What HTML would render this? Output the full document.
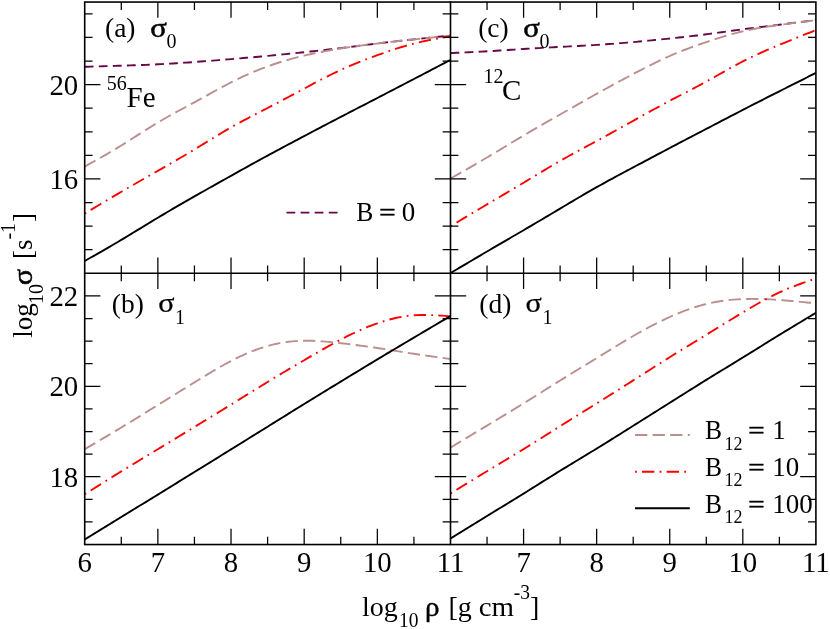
<!DOCTYPE html>
<html><head><meta charset="utf-8"><title>conductivity</title>
<style>html,body{margin:0;padding:0;background:#fff;}svg{display:block;}text{font-family:'Liberation Serif', serif;fill:#000;}</style></head><body>
<svg width="830" height="629" viewBox="0 0 830 629">
<rect x="0" y="0" width="830" height="629" fill="#ffffff"/>
<defs>
<clipPath id="ca"><rect x="84.7" y="2.05" width="365.8" height="271.25"/></clipPath>
<clipPath id="cb"><rect x="84.7" y="273.3" width="365.8" height="271.24999999999994"/></clipPath>
<clipPath id="cc"><rect x="450.5" y="2.05" width="365.4" height="271.25"/></clipPath>
<clipPath id="cd"><rect x="450.5" y="273.3" width="365.4" height="271.24999999999994"/></clipPath>
</defs>
<g clip-path="url(#ca)" fill="none" stroke-width="1.9">
<path d="M84.70,66.80 L87.75,66.71 L90.80,66.62 L93.84,66.53 L96.89,66.44 L99.94,66.35 L102.99,66.26 L106.04,66.17 L109.09,66.08 L112.14,65.98 L115.18,65.89 L118.23,65.80 L121.28,65.70 L124.33,65.60 L127.38,65.50 L130.43,65.40 L133.47,65.30 L136.52,65.19 L139.57,65.08 L142.62,64.97 L145.67,64.85 L148.72,64.72 L151.76,64.59 L154.81,64.45 L157.86,64.30 L160.91,64.14 L163.96,63.98 L167.00,63.81 L170.05,63.63 L173.10,63.45 L176.15,63.26 L179.20,63.06 L182.25,62.86 L185.30,62.65 L188.34,62.44 L191.39,62.22 L194.44,62.00 L197.49,61.77 L200.54,61.54 L203.59,61.31 L206.63,61.08 L209.68,60.84 L212.73,60.59 L215.78,60.35 L218.83,60.10 L221.88,59.86 L224.92,59.60 L227.97,59.35 L231.02,59.10 L234.07,58.85 L237.12,58.59 L240.17,58.33 L243.21,58.07 L246.26,57.81 L249.31,57.55 L252.36,57.28 L255.41,57.01 L258.45,56.74 L261.50,56.47 L264.55,56.18 L267.60,55.90 L270.65,55.61 L273.70,55.32 L276.75,55.02 L279.79,54.72 L282.84,54.41 L285.89,54.10 L288.94,53.79 L291.99,53.48 L295.04,53.16 L298.08,52.84 L301.13,52.52 L304.18,52.20 L307.23,51.88 L310.28,51.55 L313.32,51.22 L316.37,50.89 L319.42,50.56 L322.47,50.22 L325.52,49.88 L328.57,49.53 L331.62,49.18 L334.66,48.83 L337.71,48.47 L340.76,48.10 L343.81,47.73 L346.86,47.35 L349.90,46.96 L352.95,46.58 L356.00,46.19 L359.05,45.80 L362.10,45.41 L365.15,45.02 L368.19,44.63 L371.24,44.25 L374.29,43.87 L377.34,43.50 L380.39,43.13 L383.44,42.77 L386.49,42.42 L389.53,42.07 L392.58,41.73 L395.63,41.39 L398.68,41.05 L401.73,40.72 L404.77,40.38 L407.82,40.05 L410.87,39.73 L413.92,39.40 L416.97,39.07 L420.02,38.75 L423.06,38.42 L426.11,38.10 L429.16,37.77 L432.21,37.45 L435.26,37.12 L438.31,36.80 L441.35,36.47 L444.40,36.15 L447.45,35.82 L450.50,35.50" stroke="#670748" stroke-dasharray="8.8 5.28"/>
<path d="M84.70,166.60 L87.75,164.90 L90.80,163.20 L93.84,161.49 L96.89,159.78 L99.94,158.06 L102.99,156.32 L106.04,154.57 L109.09,152.80 L112.14,151.01 L115.18,149.20 L118.23,147.36 L121.28,145.50 L124.33,143.61 L127.38,141.69 L130.43,139.76 L133.47,137.81 L136.52,135.86 L139.57,133.90 L142.62,131.96 L145.67,130.02 L148.72,128.10 L151.76,126.20 L154.81,124.33 L157.86,122.50 L160.91,120.71 L163.96,118.95 L167.00,117.22 L170.05,115.52 L173.10,113.84 L176.15,112.18 L179.20,110.53 L182.25,108.88 L185.30,107.25 L188.34,105.60 L191.39,103.96 L194.44,102.30 L197.49,100.63 L200.54,98.94 L203.59,97.25 L206.63,95.56 L209.68,93.87 L212.73,92.18 L215.78,90.50 L218.83,88.84 L221.88,87.19 L224.92,85.57 L227.97,83.97 L231.02,82.40 L234.07,80.87 L237.12,79.37 L240.17,77.91 L243.21,76.48 L246.26,75.09 L249.31,73.73 L252.36,72.42 L255.41,71.14 L258.45,69.90 L261.50,68.69 L264.55,67.53 L267.60,66.40 L270.65,65.31 L273.70,64.26 L276.75,63.25 L279.79,62.27 L282.84,61.33 L285.89,60.42 L288.94,59.54 L291.99,58.70 L295.04,57.88 L298.08,57.09 L301.13,56.33 L304.18,55.60 L307.23,54.89 L310.28,54.21 L313.32,53.55 L316.37,52.91 L319.42,52.29 L322.47,51.70 L325.52,51.12 L328.57,50.56 L331.62,50.02 L334.66,49.50 L337.71,48.99 L340.76,48.50 L343.81,48.02 L346.86,47.56 L349.90,47.11 L352.95,46.67 L356.00,46.24 L359.05,45.82 L362.10,45.41 L365.15,45.02 L368.19,44.63 L371.24,44.24 L374.29,43.87 L377.34,43.50 L380.39,43.14 L383.44,42.78 L386.49,42.43 L389.53,42.08 L392.58,41.73 L395.63,41.39 L398.68,41.06 L401.73,40.72 L404.77,40.39 L407.82,40.06 L410.87,39.73 L413.92,39.40 L416.97,39.07 L420.02,38.75 L423.06,38.42 L426.11,38.09 L429.16,37.77 L432.21,37.44 L435.26,37.12 L438.31,36.80 L441.35,36.47 L444.40,36.15 L447.45,35.82 L450.50,35.50" stroke="#bc8f8f" stroke-dasharray="12.32 5.28"/>
<path d="M84.70,213.60 L87.75,211.77 L90.80,209.93 L93.84,208.10 L96.89,206.27 L99.94,204.45 L102.99,202.62 L106.04,200.80 L109.09,198.99 L112.14,197.18 L115.18,195.38 L118.23,193.59 L121.28,191.80 L124.33,190.02 L127.38,188.25 L130.43,186.49 L133.47,184.73 L136.52,182.98 L139.57,181.23 L142.62,179.49 L145.67,177.75 L148.72,176.01 L151.76,174.27 L154.81,172.54 L157.86,170.80 L160.91,169.06 L163.96,167.32 L167.00,165.58 L170.05,163.83 L173.10,162.07 L176.15,160.31 L179.20,158.54 L182.25,156.76 L185.30,154.96 L188.34,153.16 L191.39,151.34 L194.44,149.50 L197.49,147.65 L200.54,145.78 L203.59,143.91 L206.63,142.04 L209.68,140.16 L212.73,138.29 L215.78,136.43 L218.83,134.58 L221.88,132.75 L224.92,130.94 L227.97,129.15 L231.02,127.40 L234.07,125.68 L237.12,123.99 L240.17,122.33 L243.21,120.69 L246.26,119.07 L249.31,117.47 L252.36,115.88 L255.41,114.30 L258.45,112.72 L261.50,111.15 L264.55,109.58 L267.60,108.00 L270.65,106.41 L273.70,104.82 L276.75,103.22 L279.79,101.61 L282.84,100.00 L285.89,98.38 L288.94,96.76 L291.99,95.13 L295.04,93.50 L298.08,91.87 L301.13,90.23 L304.18,88.60 L307.23,86.97 L310.28,85.33 L313.32,83.71 L316.37,82.09 L319.42,80.49 L322.47,78.90 L325.52,77.34 L328.57,75.79 L331.62,74.27 L334.66,72.78 L337.71,71.32 L340.76,69.90 L343.81,68.51 L346.86,67.17 L349.90,65.85 L352.95,64.57 L356.00,63.32 L359.05,62.09 L362.10,60.89 L365.15,59.71 L368.19,58.56 L371.24,57.42 L374.29,56.30 L377.34,55.20 L380.39,54.11 L383.44,53.03 L386.49,51.97 L389.53,50.93 L392.58,49.92 L395.63,48.92 L398.68,47.95 L401.73,47.02 L404.77,46.11 L407.82,45.24 L410.87,44.40 L413.92,43.60 L416.97,42.84 L420.02,42.12 L423.06,41.43 L426.11,40.77 L429.16,40.14 L432.21,39.53 L435.26,38.95 L438.31,38.38 L441.35,37.82 L444.40,37.28 L447.45,36.74 L450.50,36.20" stroke="#ff0000" stroke-dasharray="1.76 5.28 12.32 5.28"/>
<path d="M84.70,261.00 L87.75,259.27 L90.80,257.54 L93.84,255.81 L96.89,254.07 L99.94,252.33 L102.99,250.58 L106.04,248.83 L109.09,247.06 L112.14,245.29 L115.18,243.51 L118.23,241.71 L121.28,239.90 L124.33,238.08 L127.38,236.24 L130.43,234.40 L133.47,232.54 L136.52,230.68 L139.57,228.82 L142.62,226.96 L145.67,225.10 L148.72,223.24 L151.76,221.38 L154.81,219.54 L157.86,217.70 L160.91,215.88 L163.96,214.06 L167.00,212.26 L170.05,210.47 L173.10,208.68 L176.15,206.91 L179.20,205.14 L182.25,203.38 L185.30,201.63 L188.34,199.88 L191.39,198.14 L194.44,196.40 L197.49,194.67 L200.54,192.94 L203.59,191.21 L206.63,189.49 L209.68,187.77 L212.73,186.05 L215.78,184.34 L218.83,182.63 L221.88,180.92 L224.92,179.21 L227.97,177.50 L231.02,175.80 L234.07,174.10 L237.12,172.40 L240.17,170.70 L243.21,169.01 L246.26,167.31 L249.31,165.63 L252.36,163.94 L255.41,162.26 L258.45,160.59 L261.50,158.92 L264.55,157.26 L267.60,155.60 L270.65,153.95 L273.70,152.31 L276.75,150.67 L279.79,149.04 L282.84,147.41 L285.89,145.78 L288.94,144.16 L291.99,142.55 L295.04,140.93 L298.08,139.32 L301.13,137.71 L304.18,136.10 L307.23,134.49 L310.28,132.88 L313.32,131.28 L316.37,129.67 L319.42,128.07 L322.47,126.46 L325.52,124.86 L328.57,123.27 L331.62,121.67 L334.66,120.08 L337.71,118.49 L340.76,116.90 L343.81,115.32 L346.86,113.74 L349.90,112.16 L352.95,110.58 L356.00,109.01 L359.05,107.43 L362.10,105.86 L365.15,104.29 L368.19,102.72 L371.24,101.15 L374.29,99.57 L377.34,98.00 L380.39,96.42 L383.44,94.85 L386.49,93.27 L389.53,91.69 L392.58,90.10 L395.63,88.52 L398.68,86.94 L401.73,85.35 L404.77,83.76 L407.82,82.18 L410.87,80.59 L413.92,79.00 L416.97,77.41 L420.02,75.82 L423.06,74.23 L426.11,72.64 L429.16,71.05 L432.21,69.46 L435.26,67.86 L438.31,66.27 L441.35,64.68 L444.40,63.09 L447.45,61.49 L450.50,59.90" stroke="#000000"/>
</g>
<g clip-path="url(#cb)" fill="none" stroke-width="1.9">
<path d="M84.70,449.20 L87.75,447.41 L90.80,445.62 L93.84,443.82 L96.89,442.03 L99.94,440.23 L102.99,438.43 L106.04,436.62 L109.09,434.81 L112.14,432.99 L115.18,431.17 L118.23,429.34 L121.28,427.50 L124.33,425.65 L127.38,423.80 L130.43,421.94 L133.47,420.07 L136.52,418.20 L139.57,416.32 L142.62,414.44 L145.67,412.55 L148.72,410.67 L151.76,408.78 L154.81,406.89 L157.86,405.00 L160.91,403.11 L163.96,401.23 L167.00,399.34 L170.05,397.46 L173.10,395.57 L176.15,393.69 L179.20,391.81 L182.25,389.92 L185.30,388.04 L188.34,386.16 L191.39,384.28 L194.44,382.40 L197.49,380.52 L200.54,378.64 L203.59,376.78 L206.63,374.92 L209.68,373.08 L212.73,371.26 L215.78,369.47 L218.83,367.70 L221.88,365.97 L224.92,364.27 L227.97,362.61 L231.02,361.00 L234.07,359.43 L237.12,357.92 L240.17,356.46 L243.21,355.05 L246.26,353.70 L249.31,352.40 L252.36,351.17 L255.41,350.00 L258.45,348.90 L261.50,347.86 L264.55,346.90 L267.60,346.00 L270.65,345.18 L273.70,344.43 L276.75,343.75 L279.79,343.14 L282.84,342.60 L285.89,342.13 L288.94,341.73 L291.99,341.40 L295.04,341.13 L298.08,340.92 L301.13,340.78 L304.18,340.70 L307.23,340.68 L310.28,340.72 L313.32,340.81 L316.37,340.95 L319.42,341.13 L322.47,341.35 L325.52,341.60 L328.57,341.88 L331.62,342.18 L334.66,342.51 L337.71,342.85 L340.76,343.20 L343.81,343.56 L346.86,343.92 L349.90,344.29 L352.95,344.67 L356.00,345.05 L359.05,345.45 L362.10,345.85 L365.15,346.26 L368.19,346.68 L371.24,347.11 L374.29,347.55 L377.34,348.00 L380.39,348.46 L383.44,348.93 L386.49,349.41 L389.53,349.90 L392.58,350.39 L395.63,350.88 L398.68,351.37 L401.73,351.87 L404.77,352.36 L407.82,352.85 L410.87,353.33 L413.92,353.80 L416.97,354.27 L420.02,354.72 L423.06,355.17 L426.11,355.61 L429.16,356.05 L432.21,356.48 L435.26,356.91 L438.31,357.33 L441.35,357.75 L444.40,358.17 L447.45,358.58 L450.50,359.00" stroke="#bc8f8f" stroke-dasharray="12.32 5.28"/>
<path d="M84.70,494.30 L87.75,492.38 L90.80,490.45 L93.84,488.53 L96.89,486.61 L99.94,484.69 L102.99,482.78 L106.04,480.87 L109.09,478.96 L112.14,477.06 L115.18,475.17 L118.23,473.28 L121.28,471.40 L124.33,469.53 L127.38,467.66 L130.43,465.80 L133.47,463.94 L136.52,462.09 L139.57,460.25 L142.62,458.40 L145.67,456.56 L148.72,454.72 L151.76,452.88 L154.81,451.04 L157.86,449.20 L160.91,447.36 L163.96,445.51 L167.00,443.67 L170.05,441.82 L173.10,439.97 L176.15,438.12 L179.20,436.27 L182.25,434.42 L185.30,432.56 L188.34,430.71 L191.39,428.86 L194.44,427.00 L197.49,425.14 L200.54,423.29 L203.59,421.43 L206.63,419.57 L209.68,417.71 L212.73,415.84 L215.78,413.98 L218.83,412.11 L221.88,410.24 L224.92,408.36 L227.97,406.48 L231.02,404.60 L234.07,402.71 L237.12,400.82 L240.17,398.93 L243.21,397.04 L246.26,395.15 L249.31,393.26 L252.36,391.37 L255.41,389.49 L258.45,387.61 L261.50,385.73 L264.55,383.86 L267.60,382.00 L270.65,380.15 L273.70,378.30 L276.75,376.47 L279.79,374.64 L282.84,372.81 L285.89,371.00 L288.94,369.18 L291.99,367.38 L295.04,365.58 L298.08,363.78 L301.13,361.99 L304.18,360.20 L307.23,358.41 L310.28,356.63 L313.32,354.86 L316.37,353.10 L319.42,351.35 L322.47,349.61 L325.52,347.89 L328.57,346.19 L331.62,344.50 L334.66,342.84 L337.71,341.21 L340.76,339.60 L343.81,338.02 L346.86,336.47 L349.90,334.96 L352.95,333.49 L356.00,332.05 L359.05,330.65 L362.10,329.30 L365.15,328.00 L368.19,326.74 L371.24,325.54 L374.29,324.39 L377.34,323.30 L380.39,322.27 L383.44,321.29 L386.49,320.38 L389.53,319.54 L392.58,318.76 L395.63,318.05 L398.68,317.41 L401.73,316.83 L404.77,316.34 L407.82,315.91 L410.87,315.57 L413.92,315.30 L416.97,315.11 L420.02,314.99 L423.06,314.94 L426.11,314.96 L429.16,315.02 L432.21,315.13 L435.26,315.28 L438.31,315.46 L441.35,315.67 L444.40,315.91 L447.45,316.15 L450.50,316.40" stroke="#ff0000" stroke-dasharray="1.76 5.28 12.32 5.28"/>
<path d="M84.70,539.50 L87.75,537.62 L90.80,535.74 L93.84,533.87 L96.89,531.99 L99.94,530.11 L102.99,528.23 L106.04,526.36 L109.09,524.48 L112.14,522.61 L115.18,520.74 L118.23,518.87 L121.28,517.00 L124.33,515.13 L127.38,513.27 L130.43,511.40 L133.47,509.54 L136.52,507.67 L139.57,505.81 L142.62,503.94 L145.67,502.08 L148.72,500.21 L151.76,498.34 L154.81,496.47 L157.86,494.60 L160.91,492.72 L163.96,490.85 L167.00,488.97 L170.05,487.08 L173.10,485.20 L176.15,483.32 L179.20,481.43 L182.25,479.54 L185.30,477.66 L188.34,475.77 L191.39,473.89 L194.44,472.00 L197.49,470.12 L200.54,468.23 L203.59,466.35 L206.63,464.47 L209.68,462.58 L212.73,460.70 L215.78,458.82 L218.83,456.94 L221.88,455.05 L224.92,453.17 L227.97,451.29 L231.02,449.40 L234.07,447.51 L237.12,445.63 L240.17,443.74 L243.21,441.85 L246.26,439.96 L249.31,438.06 L252.36,436.17 L255.41,434.28 L258.45,432.39 L261.50,430.49 L264.55,428.60 L267.60,426.70 L270.65,424.80 L273.70,422.91 L276.75,421.01 L279.79,419.12 L282.84,417.22 L285.89,415.33 L288.94,413.43 L291.99,411.54 L295.04,409.65 L298.08,407.77 L301.13,405.88 L304.18,404.00 L307.23,402.12 L310.28,400.25 L313.32,398.37 L316.37,396.50 L319.42,394.63 L322.47,392.77 L325.52,390.90 L328.57,389.04 L331.62,387.18 L334.66,385.32 L337.71,383.46 L340.76,381.60 L343.81,379.74 L346.86,377.88 L349.90,376.03 L352.95,374.17 L356.00,372.32 L359.05,370.46 L362.10,368.61 L365.15,366.76 L368.19,364.92 L371.24,363.08 L374.29,361.24 L377.34,359.40 L380.39,357.57 L383.44,355.74 L386.49,353.91 L389.53,352.09 L392.58,350.27 L395.63,348.46 L398.68,346.64 L401.73,344.83 L404.77,343.02 L407.82,341.21 L410.87,339.41 L413.92,337.60 L416.97,335.80 L420.02,333.99 L423.06,332.19 L426.11,330.39 L429.16,328.59 L432.21,326.79 L435.26,324.99 L438.31,323.19 L441.35,321.39 L444.40,319.60 L447.45,317.80 L450.50,316.00" stroke="#000000"/>
</g>
<g clip-path="url(#cc)" fill="none" stroke-width="1.9">
<path d="M450.50,53.10 L453.55,52.96 L456.59,52.82 L459.63,52.68 L462.68,52.54 L465.73,52.40 L468.77,52.25 L471.81,52.11 L474.86,51.95 L477.90,51.80 L480.95,51.64 L484.00,51.47 L487.04,51.30 L490.08,51.12 L493.13,50.94 L496.18,50.75 L499.22,50.56 L502.26,50.37 L505.31,50.18 L508.36,49.98 L511.40,49.78 L514.45,49.58 L517.49,49.39 L520.53,49.19 L523.58,49.00 L526.62,48.81 L529.67,48.62 L532.72,48.44 L535.76,48.26 L538.80,48.08 L541.85,47.90 L544.89,47.73 L547.94,47.56 L550.99,47.39 L554.03,47.23 L557.08,47.06 L560.12,46.90 L563.16,46.74 L566.21,46.58 L569.25,46.42 L572.30,46.27 L575.35,46.11 L578.39,45.95 L581.43,45.78 L584.48,45.62 L587.52,45.45 L590.57,45.27 L593.62,45.09 L596.66,44.90 L599.70,44.70 L602.75,44.50 L605.79,44.29 L608.84,44.07 L611.88,43.85 L614.93,43.62 L617.98,43.38 L621.02,43.14 L624.07,42.89 L627.11,42.63 L630.15,42.37 L633.20,42.10 L636.25,41.83 L639.29,41.55 L642.34,41.26 L645.38,40.97 L648.42,40.67 L651.47,40.37 L654.51,40.07 L657.56,39.76 L660.61,39.45 L663.65,39.14 L666.69,38.82 L669.74,38.50 L672.78,38.18 L675.83,37.85 L678.88,37.52 L681.92,37.19 L684.97,36.85 L688.01,36.51 L691.06,36.16 L694.10,35.80 L697.14,35.44 L700.19,35.07 L703.24,34.69 L706.28,34.30 L709.33,33.90 L712.37,33.50 L715.41,33.09 L718.46,32.67 L721.50,32.25 L724.55,31.82 L727.60,31.40 L730.64,30.97 L733.68,30.55 L736.73,30.13 L739.77,29.71 L742.82,29.30 L745.87,28.90 L748.91,28.50 L751.95,28.10 L755.00,27.72 L758.05,27.33 L761.09,26.95 L764.13,26.58 L767.18,26.20 L770.22,25.82 L773.27,25.45 L776.32,25.08 L779.36,24.70 L782.40,24.32 L785.45,23.94 L788.50,23.56 L791.54,23.18 L794.59,22.80 L797.63,22.42 L800.67,22.03 L803.72,21.65 L806.76,21.26 L809.81,20.87 L812.86,20.49 L815.90,20.10" stroke="#670748" stroke-dasharray="8.8 5.28"/>
<path d="M450.50,178.50 L453.55,176.78 L456.59,175.05 L459.63,173.33 L462.68,171.60 L465.73,169.87 L468.77,168.13 L471.81,166.38 L474.86,164.62 L477.90,162.86 L480.95,161.09 L484.00,159.30 L487.04,157.50 L490.08,155.69 L493.13,153.86 L496.18,152.03 L499.22,150.19 L502.26,148.34 L505.31,146.50 L508.36,144.65 L511.40,142.80 L514.45,140.96 L517.49,139.13 L520.53,137.31 L523.58,135.50 L526.62,133.70 L529.67,131.92 L532.72,130.15 L535.76,128.39 L538.80,126.64 L541.85,124.89 L544.89,123.15 L547.94,121.42 L550.99,119.69 L554.03,117.96 L557.08,116.23 L560.12,114.50 L563.16,112.77 L566.21,111.03 L569.25,109.30 L572.30,107.56 L575.35,105.83 L578.39,104.10 L581.43,102.37 L584.48,100.65 L587.52,98.92 L590.57,97.21 L593.62,95.50 L596.66,93.80 L599.70,92.11 L602.75,90.42 L605.79,88.74 L608.84,87.08 L611.88,85.41 L614.93,83.76 L617.98,82.12 L621.02,80.48 L624.07,78.85 L627.11,77.22 L630.15,75.61 L633.20,74.00 L636.25,72.40 L639.29,70.81 L642.34,69.23 L645.38,67.67 L648.42,66.12 L651.47,64.60 L654.51,63.09 L657.56,61.61 L660.61,60.16 L663.65,58.74 L666.69,57.35 L669.74,56.00 L672.78,54.68 L675.83,53.40 L678.88,52.16 L681.92,50.94 L684.97,49.75 L688.01,48.60 L691.06,47.46 L694.10,46.35 L697.14,45.26 L700.19,44.19 L703.24,43.14 L706.28,42.10 L709.33,41.07 L712.37,40.06 L715.41,39.07 L718.46,38.10 L721.50,37.15 L724.55,36.22 L727.60,35.32 L730.64,34.45 L733.68,33.61 L736.73,32.80 L739.77,32.03 L742.82,31.30 L745.87,30.61 L748.91,29.95 L751.95,29.33 L755.00,28.75 L758.05,28.19 L761.09,27.66 L764.13,27.15 L767.18,26.67 L770.22,26.20 L773.27,25.76 L776.32,25.32 L779.36,24.90 L782.40,24.49 L785.45,24.08 L788.50,23.68 L791.54,23.29 L794.59,22.90 L797.63,22.52 L800.67,22.15 L803.72,21.77 L806.76,21.40 L809.81,21.03 L812.86,20.67 L815.90,20.30" stroke="#bc8f8f" stroke-dasharray="12.32 5.28"/>
<path d="M450.50,226.20 L453.55,224.38 L456.59,222.56 L459.63,220.73 L462.68,218.91 L465.73,217.09 L468.77,215.27 L471.81,213.46 L474.86,211.64 L477.90,209.83 L480.95,208.02 L484.00,206.21 L487.04,204.40 L490.08,202.60 L493.13,200.80 L496.18,199.00 L499.22,197.20 L502.26,195.40 L505.31,193.59 L508.36,191.79 L511.40,189.98 L514.45,188.17 L517.49,186.35 L520.53,184.53 L523.58,182.70 L526.62,180.86 L529.67,179.02 L532.72,177.18 L535.76,175.33 L538.80,173.49 L541.85,171.65 L544.89,169.83 L547.94,168.01 L550.99,166.20 L554.03,164.42 L557.08,162.65 L560.12,160.90 L563.16,159.18 L566.21,157.47 L569.25,155.79 L572.30,154.12 L575.35,152.46 L578.39,150.82 L581.43,149.18 L584.48,147.55 L587.52,145.91 L590.57,144.28 L593.62,142.64 L596.66,141.00 L599.70,139.35 L602.75,137.69 L605.79,136.02 L608.84,134.34 L611.88,132.66 L614.93,130.98 L617.98,129.29 L621.02,127.59 L624.07,125.90 L627.11,124.20 L630.15,122.50 L633.20,120.80 L636.25,119.10 L639.29,117.41 L642.34,115.71 L645.38,114.02 L648.42,112.34 L651.47,110.66 L654.51,109.00 L657.56,107.33 L660.61,105.68 L663.65,104.04 L666.69,102.42 L669.74,100.80 L672.78,99.20 L675.83,97.61 L678.88,96.02 L681.92,94.45 L684.97,92.87 L688.01,91.29 L691.06,89.71 L694.10,88.11 L697.14,86.51 L700.19,84.89 L703.24,83.26 L706.28,81.60 L709.33,79.92 L712.37,78.22 L715.41,76.51 L718.46,74.79 L721.50,73.07 L724.55,71.35 L727.60,69.64 L730.64,67.94 L733.68,66.26 L736.73,64.61 L739.77,62.99 L742.82,61.40 L745.87,59.85 L748.91,58.34 L751.95,56.87 L755.00,55.43 L758.05,54.02 L761.09,52.64 L764.13,51.29 L767.18,49.96 L770.22,48.64 L773.27,47.35 L776.32,46.07 L779.36,44.80 L782.40,43.54 L785.45,42.29 L788.50,41.05 L791.54,39.82 L794.59,38.59 L797.63,37.36 L800.67,36.15 L803.72,34.93 L806.76,33.72 L809.81,32.51 L812.86,31.31 L815.90,30.10" stroke="#ff0000" stroke-dasharray="1.76 5.28 12.32 5.28"/>
<path d="M450.50,273.10 L453.55,271.29 L456.59,269.48 L459.63,267.68 L462.68,265.87 L465.73,264.07 L468.77,262.26 L471.81,260.46 L474.86,258.66 L477.90,256.87 L480.95,255.08 L484.00,253.29 L487.04,251.50 L490.08,249.72 L493.13,247.94 L496.18,246.16 L499.22,244.39 L502.26,242.62 L505.31,240.85 L508.36,239.08 L511.40,237.30 L514.45,235.53 L517.49,233.76 L520.53,231.98 L523.58,230.20 L526.62,228.42 L529.67,226.63 L532.72,224.84 L535.76,223.04 L538.80,221.25 L541.85,219.45 L544.89,217.64 L547.94,215.84 L550.99,214.03 L554.03,212.22 L557.08,210.41 L560.12,208.60 L563.16,206.79 L566.21,204.97 L569.25,203.16 L572.30,201.36 L575.35,199.55 L578.39,197.76 L581.43,195.97 L584.48,194.19 L587.52,192.42 L590.57,190.67 L593.62,188.93 L596.66,187.20 L599.70,185.49 L602.75,183.80 L605.79,182.12 L608.84,180.45 L611.88,178.80 L614.93,177.15 L617.98,175.52 L621.02,173.89 L624.07,172.26 L627.11,170.64 L630.15,169.02 L633.20,167.40 L636.25,165.78 L639.29,164.16 L642.34,162.54 L645.38,160.92 L648.42,159.30 L651.47,157.68 L654.51,156.06 L657.56,154.44 L660.61,152.83 L663.65,151.22 L666.69,149.61 L669.74,148.00 L672.78,146.40 L675.83,144.80 L678.88,143.20 L681.92,141.61 L684.97,140.02 L688.01,138.43 L691.06,136.84 L694.10,135.25 L697.14,133.66 L700.19,132.07 L703.24,130.49 L706.28,128.90 L709.33,127.31 L712.37,125.72 L715.41,124.13 L718.46,122.55 L721.50,120.96 L724.55,119.37 L727.60,117.79 L730.64,116.20 L733.68,114.62 L736.73,113.04 L739.77,111.47 L742.82,109.90 L745.87,108.33 L748.91,106.77 L751.95,105.21 L755.00,103.66 L758.05,102.10 L761.09,100.55 L764.13,99.01 L767.18,97.46 L770.22,95.92 L773.27,94.38 L776.32,92.84 L779.36,91.30 L782.40,89.76 L785.45,88.23 L788.50,86.69 L791.54,85.16 L794.59,83.62 L797.63,82.09 L800.67,80.56 L803.72,79.03 L806.76,77.49 L809.81,75.96 L812.86,74.43 L815.90,72.90" stroke="#000000"/>
</g>
<g clip-path="url(#cd)" fill="none" stroke-width="1.9">
<path d="M450.50,447.60 L453.55,445.77 L456.59,443.93 L459.63,442.10 L462.68,440.26 L465.73,438.43 L468.77,436.60 L471.81,434.76 L474.86,432.93 L477.90,431.10 L480.95,429.26 L484.00,427.43 L487.04,425.60 L490.08,423.77 L493.13,421.94 L496.18,420.10 L499.22,418.27 L502.26,416.43 L505.31,414.58 L508.36,412.74 L511.40,410.88 L514.45,409.02 L517.49,407.16 L520.53,405.28 L523.58,403.40 L526.62,401.51 L529.67,399.61 L532.72,397.70 L535.76,395.79 L538.80,393.87 L541.85,391.96 L544.89,390.04 L547.94,388.12 L550.99,386.21 L554.03,384.30 L557.08,382.40 L560.12,380.50 L563.16,378.61 L566.21,376.73 L569.25,374.86 L572.30,372.99 L575.35,371.13 L578.39,369.26 L581.43,367.41 L584.48,365.55 L587.52,363.69 L590.57,361.83 L593.62,359.97 L596.66,358.10 L599.70,356.23 L602.75,354.36 L605.79,352.48 L608.84,350.61 L611.88,348.74 L614.93,346.88 L617.98,345.03 L621.02,343.19 L624.07,341.37 L627.11,339.56 L630.15,337.77 L633.20,336.00 L636.25,334.25 L639.29,332.53 L642.34,330.84 L645.38,329.17 L648.42,327.53 L651.47,325.92 L654.51,324.35 L657.56,322.81 L660.61,321.30 L663.65,319.83 L666.69,318.39 L669.74,317.00 L672.78,315.65 L675.83,314.34 L678.88,313.07 L681.92,311.85 L684.97,310.68 L688.01,309.56 L691.06,308.49 L694.10,307.47 L697.14,306.52 L700.19,305.62 L703.24,304.78 L706.28,304.00 L709.33,303.29 L712.37,302.63 L715.41,302.04 L718.46,301.51 L721.50,301.03 L724.55,300.61 L727.60,300.24 L730.64,299.92 L733.68,299.65 L736.73,299.42 L739.77,299.24 L742.82,299.10 L745.87,299.00 L748.91,298.94 L751.95,298.92 L755.00,298.93 L758.05,298.97 L761.09,299.04 L764.13,299.14 L767.18,299.27 L770.22,299.42 L773.27,299.60 L776.32,299.79 L779.36,300.00 L782.40,300.23 L785.45,300.47 L788.50,300.72 L791.54,300.99 L794.59,301.27 L797.63,301.56 L800.67,301.85 L803.72,302.15 L806.76,302.46 L809.81,302.77 L812.86,303.09 L815.90,303.40" stroke="#bc8f8f" stroke-dasharray="12.32 5.28"/>
<path d="M450.50,493.50 L453.55,491.63 L456.59,489.76 L459.63,487.90 L462.68,486.03 L465.73,484.17 L468.77,482.31 L471.81,480.45 L474.86,478.59 L477.90,476.74 L480.95,474.89 L484.00,473.04 L487.04,471.20 L490.08,469.36 L493.13,467.53 L496.18,465.70 L499.22,463.87 L502.26,462.04 L505.31,460.20 L508.36,458.37 L511.40,456.53 L514.45,454.68 L517.49,452.83 L520.53,450.97 L523.58,449.10 L526.62,447.22 L529.67,445.33 L532.72,443.43 L535.76,441.53 L538.80,439.62 L541.85,437.71 L544.89,435.79 L547.94,433.87 L550.99,431.95 L554.03,430.03 L557.08,428.11 L560.12,426.20 L563.16,424.29 L566.21,422.38 L569.25,420.48 L572.30,418.58 L575.35,416.68 L578.39,414.78 L581.43,412.88 L584.48,410.99 L587.52,409.09 L590.57,407.20 L593.62,405.30 L596.66,403.40 L599.70,401.50 L602.75,399.60 L605.79,397.69 L608.84,395.78 L611.88,393.87 L614.93,391.96 L617.98,390.04 L621.02,388.12 L624.07,386.20 L627.11,384.27 L630.15,382.34 L633.20,380.40 L636.25,378.46 L639.29,376.52 L642.34,374.57 L645.38,372.63 L648.42,370.68 L651.47,368.74 L654.51,366.80 L657.56,364.87 L660.61,362.94 L663.65,361.02 L666.69,359.10 L669.74,357.20 L672.78,355.31 L675.83,353.42 L678.88,351.55 L681.92,349.68 L684.97,347.81 L688.01,345.95 L691.06,344.10 L694.10,342.24 L697.14,340.38 L700.19,338.53 L703.24,336.66 L706.28,334.80 L709.33,332.93 L712.37,331.06 L715.41,329.18 L718.46,327.30 L721.50,325.42 L724.55,323.55 L727.60,321.67 L730.64,319.80 L733.68,317.94 L736.73,316.08 L739.77,314.24 L742.82,312.40 L745.87,310.57 L748.91,308.76 L751.95,306.97 L755.00,305.21 L758.05,303.47 L761.09,301.76 L764.13,300.09 L767.18,298.45 L770.22,296.87 L773.27,295.32 L776.32,293.83 L779.36,292.40 L782.40,291.02 L785.45,289.70 L788.50,288.43 L791.54,287.20 L794.59,286.02 L797.63,284.86 L800.67,283.74 L803.72,282.64 L806.76,281.56 L809.81,280.50 L812.86,279.45 L815.90,278.40" stroke="#ff0000" stroke-dasharray="1.76 5.28 12.32 5.28"/>
<path d="M450.50,538.50 L453.55,536.62 L456.59,534.74 L459.63,532.86 L462.68,530.98 L465.73,529.10 L468.77,527.22 L471.81,525.35 L474.86,523.47 L477.90,521.60 L480.95,519.73 L484.00,517.86 L487.04,516.00 L490.08,514.14 L493.13,512.28 L496.18,510.42 L499.22,508.56 L502.26,506.70 L505.31,504.84 L508.36,502.98 L511.40,501.11 L514.45,499.24 L517.49,497.37 L520.53,495.49 L523.58,493.60 L526.62,491.71 L529.67,489.81 L532.72,487.90 L535.76,485.99 L538.80,484.08 L541.85,482.17 L544.89,480.27 L547.94,478.36 L550.99,476.46 L554.03,474.57 L557.08,472.68 L560.12,470.80 L563.16,468.93 L566.21,467.07 L569.25,465.22 L572.30,463.37 L575.35,461.53 L578.39,459.69 L581.43,457.85 L584.48,456.01 L587.52,454.16 L590.57,452.31 L593.62,450.46 L596.66,448.60 L599.70,446.73 L602.75,444.85 L605.79,442.97 L608.84,441.08 L611.88,439.18 L614.93,437.28 L617.98,435.37 L621.02,433.46 L624.07,431.55 L627.11,429.63 L630.15,427.72 L633.20,425.80 L636.25,423.88 L639.29,421.97 L642.34,420.05 L645.38,418.14 L648.42,416.22 L651.47,414.30 L654.51,412.39 L657.56,410.47 L660.61,408.55 L663.65,406.64 L666.69,404.72 L669.74,402.80 L672.78,400.88 L675.83,398.96 L678.88,397.04 L681.92,395.13 L684.97,393.21 L688.01,391.30 L691.06,389.39 L694.10,387.48 L697.14,385.58 L700.19,383.68 L703.24,381.79 L706.28,379.90 L709.33,378.02 L712.37,376.15 L715.41,374.28 L718.46,372.41 L721.50,370.55 L724.55,368.69 L727.60,366.83 L730.64,364.97 L733.68,363.10 L736.73,361.24 L739.77,359.37 L742.82,357.50 L745.87,355.62 L748.91,353.74 L751.95,351.86 L755.00,349.97 L758.05,348.08 L761.09,346.19 L764.13,344.30 L767.18,342.41 L770.22,340.53 L773.27,338.65 L776.32,336.77 L779.36,334.90 L782.40,333.04 L785.45,331.18 L788.50,329.32 L791.54,327.48 L794.59,325.63 L797.63,323.79 L800.67,321.95 L803.72,320.12 L806.76,318.29 L809.81,316.46 L812.86,314.63 L815.90,312.80" stroke="#000000"/>
</g>
<g stroke="#000" stroke-width="1.25" fill="none">
<path d="M121.28,2.05L121.28,9.90 M121.28,265.45L121.28,281.15 M121.28,536.70L121.28,544.55 M157.86,2.05L157.86,17.75 M157.86,257.60L157.86,289.00 M157.86,528.85L157.86,544.55 M194.44,2.05L194.44,9.90 M194.44,265.45L194.44,281.15 M194.44,536.70L194.44,544.55 M231.02,2.05L231.02,17.75 M231.02,257.60L231.02,289.00 M231.02,528.85L231.02,544.55 M267.60,2.05L267.60,9.90 M267.60,265.45L267.60,281.15 M267.60,536.70L267.60,544.55 M304.18,2.05L304.18,17.75 M304.18,257.60L304.18,289.00 M304.18,528.85L304.18,544.55 M340.76,2.05L340.76,9.90 M340.76,265.45L340.76,281.15 M340.76,536.70L340.76,544.55 M377.34,2.05L377.34,17.75 M377.34,257.60L377.34,289.00 M377.34,528.85L377.34,544.55 M413.92,2.05L413.92,9.90 M413.92,265.45L413.92,281.15 M413.92,536.70L413.92,544.55 M487.04,2.05L487.04,9.90 M487.04,265.45L487.04,281.15 M487.04,536.70L487.04,544.55 M523.58,2.05L523.58,17.75 M523.58,257.60L523.58,289.00 M523.58,528.85L523.58,544.55 M560.12,2.05L560.12,9.90 M560.12,265.45L560.12,281.15 M560.12,536.70L560.12,544.55 M596.66,2.05L596.66,17.75 M596.66,257.60L596.66,289.00 M596.66,528.85L596.66,544.55 M633.20,2.05L633.20,9.90 M633.20,265.45L633.20,281.15 M633.20,536.70L633.20,544.55 M669.74,2.05L669.74,17.75 M669.74,257.60L669.74,289.00 M669.74,528.85L669.74,544.55 M706.28,2.05L706.28,9.90 M706.28,265.45L706.28,281.15 M706.28,536.70L706.28,544.55 M742.82,2.05L742.82,17.75 M742.82,257.60L742.82,289.00 M742.82,528.85L742.82,544.55 M779.36,2.05L779.36,9.90 M779.36,265.45L779.36,281.15 M779.36,536.70L779.36,544.55 M84.70,249.71L92.55,249.71 M442.65,249.71L458.35,249.71 M808.05,249.71L815.90,249.71 M84.70,226.13L92.55,226.13 M442.65,226.13L458.35,226.13 M808.05,226.13L815.90,226.13 M84.70,202.54L92.55,202.54 M442.65,202.54L458.35,202.54 M808.05,202.54L815.90,202.54 M84.70,178.95L100.40,178.95 M434.80,178.95L466.20,178.95 M800.20,178.95L815.90,178.95 M84.70,155.37L92.55,155.37 M442.65,155.37L458.35,155.37 M808.05,155.37L815.90,155.37 M84.70,131.78L92.55,131.78 M442.65,131.78L458.35,131.78 M808.05,131.78L815.90,131.78 M84.70,108.19L92.55,108.19 M442.65,108.19L458.35,108.19 M808.05,108.19L815.90,108.19 M84.70,84.60L100.40,84.60 M434.80,84.60L466.20,84.60 M800.20,84.60L815.90,84.60 M84.70,61.02L92.55,61.02 M442.65,61.02L458.35,61.02 M808.05,61.02L815.90,61.02 M84.70,37.43L92.55,37.43 M442.65,37.43L458.35,37.43 M808.05,37.43L815.90,37.43 M84.70,13.84L92.55,13.84 M442.65,13.84L458.35,13.84 M808.05,13.84L815.90,13.84 M84.70,521.95L92.55,521.95 M442.65,521.95L458.35,521.95 M808.05,521.95L815.90,521.95 M84.70,499.34L92.55,499.34 M442.65,499.34L458.35,499.34 M808.05,499.34L815.90,499.34 M84.70,476.74L100.40,476.74 M434.80,476.74L466.20,476.74 M800.20,476.74L815.90,476.74 M84.70,454.13L92.55,454.13 M442.65,454.13L458.35,454.13 M808.05,454.13L815.90,454.13 M84.70,431.53L92.55,431.53 M442.65,431.53L458.35,431.53 M808.05,431.53L815.90,431.53 M84.70,408.92L92.55,408.92 M442.65,408.92L458.35,408.92 M808.05,408.92L815.90,408.92 M84.70,386.32L100.40,386.32 M434.80,386.32L466.20,386.32 M800.20,386.32L815.90,386.32 M84.70,363.72L92.55,363.72 M442.65,363.72L458.35,363.72 M808.05,363.72L815.90,363.72 M84.70,341.11L92.55,341.11 M442.65,341.11L458.35,341.11 M808.05,341.11L815.90,341.11 M84.70,318.51L92.55,318.51 M442.65,318.51L458.35,318.51 M808.05,318.51L815.90,318.51 M84.70,295.90L100.40,295.90 M434.80,295.90L466.20,295.90 M800.20,295.90L815.90,295.90"/>
</g>
<g stroke="#000" stroke-width="1.6" fill="none" stroke-linecap="square">
<rect x="84.7" y="2.05" width="731.1999999999999" height="542.5"/>
<path d="M450.5,2.05L450.5,544.55 M84.7,273.3L815.9,273.3"/>
</g>
<g opacity="0.999">
<text id="t0" font-size="28.8" text-anchor="middle" transform="translate(84.70,571.70) scale(1.0,1.04)">6</text>
<text id="t1" font-size="28.8" text-anchor="middle" transform="translate(157.86,571.70) scale(1.0,1.04)">7</text>
<text id="t2" font-size="28.8" text-anchor="middle" transform="translate(231.02,571.70) scale(1.0,1.04)">8</text>
<text id="t3" font-size="28.8" text-anchor="middle" transform="translate(304.18,571.70) scale(1.0,1.04)">9</text>
<text id="t4" font-size="28.8" text-anchor="middle" transform="translate(377.34,571.70) scale(1.0,1.04)">10</text>
<text id="t5" font-size="28.8" text-anchor="middle" transform="translate(450.50,571.70) scale(1.0,1.04)">11</text>
<text id="t6" font-size="28.8" text-anchor="middle" transform="translate(523.58,571.70) scale(1.0,1.04)">7</text>
<text id="t7" font-size="28.8" text-anchor="middle" transform="translate(596.66,571.70) scale(1.0,1.04)">8</text>
<text id="t8" font-size="28.8" text-anchor="middle" transform="translate(669.74,571.70) scale(1.0,1.04)">9</text>
<text id="t9" font-size="28.8" text-anchor="middle" transform="translate(742.82,571.70) scale(1.0,1.04)">10</text>
<text id="t10" font-size="28.8" text-anchor="middle" transform="translate(815.90,571.70) scale(1.0,1.04)">11</text>
<text id="t11" font-size="28.8" text-anchor="end" transform="translate(78.20,94.60) scale(1.0,1.04)">20</text>
<text id="t12" font-size="28.8" text-anchor="end" transform="translate(78.20,188.95) scale(1.0,1.04)">16</text>
<text id="t13" font-size="28.8" text-anchor="end" transform="translate(78.20,305.90) scale(1.0,1.04)">22</text>
<text id="t14" font-size="28.8" text-anchor="end" transform="translate(78.20,396.32) scale(1.0,1.04)">20</text>
<text id="t15" font-size="28.8" text-anchor="end" transform="translate(78.20,486.74) scale(1.0,1.04)">18</text>
<text id="t16" font-size="27.5" transform="translate(105.00,36.60)">(a)</text>
<text id="t17" font-size="27.5" stroke="#000" stroke-width="0.5" stroke-linejoin="round" transform="translate(150.20,36.60) scale(1.12,1.0)">σ</text>
<text id="t18" font-size="20.0" transform="translate(166.40,48.10) scale(1.0,1.04)">0</text>
<text id="t19" font-size="27.5" transform="translate(478.20,36.60)">(c)</text>
<text id="t20" font-size="27.5" stroke="#000" stroke-width="0.5" stroke-linejoin="round" transform="translate(523.20,36.60) scale(1.12,1.0)">σ</text>
<text id="t21" font-size="20.0" transform="translate(539.40,48.10) scale(1.0,1.04)">0</text>
<text id="t22" font-size="27.5" transform="translate(111.80,312.60)">(b)</text>
<text id="t23" font-size="27.5" stroke="#000" stroke-width="0.25" stroke-linejoin="round" transform="translate(158.30,312.40) scale(1.1,1.0)">σ</text>
<text id="t24" font-size="20.0" transform="translate(175.00,323.80) scale(1.0,1.04)">1</text>
<text id="t25" font-size="27.5" transform="translate(479.30,312.60)">(d)</text>
<text id="t26" font-size="27.5" stroke="#000" stroke-width="0.25" stroke-linejoin="round" transform="translate(525.50,312.40) scale(1.1,1.0)">σ</text>
<text id="t27" font-size="20.0" transform="translate(542.40,323.80) scale(1.0,1.04)">1</text>
<text id="t28" font-size="20.0" transform="translate(106.80,90.10) scale(1.0,1.04)">56</text>
<text id="t29" font-size="29.0" transform="translate(126.60,106.80) scale(1.0,1.03)">Fe</text>
<text id="t30" font-size="20.0" transform="translate(483.60,82.60) scale(1.0,1.04)">12</text>
<text id="t31" font-size="29.0" transform="translate(502.00,100.00) scale(1.0,1.04)">C</text>
<text id="t32" font-size="25.5" transform="translate(356.30,220.70) scale(1.0,1.04)">B</text>
<text id="t33" font-size="25.5" text-anchor="middle" stroke="#000" stroke-width="0.3" stroke-linejoin="round" transform="translate(387.50,220.70) scale(1.17,1.0)">=</text>
<text id="t34" font-size="27.0" transform="translate(401.80,220.90) scale(1.0,1.04)">0</text>
<text id="t35" font-size="25.5" transform="translate(705.00,439.10) scale(1.0,1.05)">B</text>
<text id="t36" font-size="18.0" transform="translate(724.60,449.50) scale(1.0,1.04)">12</text>
<text id="t37" font-size="25.5" text-anchor="middle" stroke="#000" stroke-width="0.3" stroke-linejoin="round" transform="translate(756.50,439.10) scale(1.17,1.0)">=</text>
<text id="t38" font-size="27.0" transform="translate(772.30,439.20) scale(1.0,1.04)">1</text>
<text id="t39" font-size="25.5" transform="translate(705.00,475.80) scale(1.0,1.05)">B</text>
<text id="t40" font-size="18.0" transform="translate(724.60,486.20) scale(1.0,1.04)">12</text>
<text id="t41" font-size="25.5" text-anchor="middle" stroke="#000" stroke-width="0.3" stroke-linejoin="round" transform="translate(756.50,475.80) scale(1.17,1.0)">=</text>
<text id="t42" font-size="27.0" transform="translate(772.30,475.90) scale(1.0,1.04)">10</text>
<text id="t43" font-size="25.5" transform="translate(705.00,512.60) scale(1.0,1.05)">B</text>
<text id="t44" font-size="18.0" transform="translate(724.60,523.00) scale(1.0,1.04)">12</text>
<text id="t45" font-size="25.5" text-anchor="middle" stroke="#000" stroke-width="0.3" stroke-linejoin="round" transform="translate(756.50,512.60) scale(1.17,1.0)">=</text>
<text id="t46" font-size="27.0" transform="translate(772.30,512.70) scale(1.0,1.04)">100</text>
<text id="t47" font-size="28" transform="translate(362.00,615.90)">log</text>
<text id="t48" font-size="19.5" transform="translate(399.00,627.40) scale(1.0,1.04)">10</text>
<text id="t49" font-size="28" stroke="#000" stroke-width="0.4" stroke-linejoin="round" transform="translate(425.00,615.90) scale(1.04,1.0)">ρ</text>
<text id="t50" font-size="28" transform="translate(448.50,615.90)">[g</text>
<text id="t51" font-size="28" transform="translate(478.70,615.90) scale(1.035,1.0)">cm</text>
<text id="t52" font-size="19.5" transform="translate(513.80,598.90) scale(1.0,1.04)">-3</text>
<text id="t53" font-size="28" transform="translate(530.00,615.90)">]</text>
<text id="t54" font-size="27" transform="translate(32.20,337.80) rotate(-90)">log</text>
<text id="t55" font-size="20.0" transform="translate(43.40,304.00) rotate(-90) scale(1.0,1.04)">10</text>
<text id="t56" font-size="27" stroke="#000" stroke-width="0.5" stroke-linejoin="round" transform="translate(32.20,285.20) rotate(-90) scale(1.12,1.0)">σ</text>
<text id="t57" font-size="27" transform="translate(32.20,258.90) rotate(-90)">[s</text>
<text id="t58" font-size="20.0" transform="translate(15.20,239.60) rotate(-90) scale(1.0,1.04)">-1</text>
<text id="t59" font-size="27" transform="translate(32.20,222.00) rotate(-90)">]</text>
</g>
<g fill="none" stroke-width="1.9">
<path d="M286.5,212.6L337.9,212.6" stroke="#670748" stroke-dasharray="8.8 5.28"/>
<path d="M635.0,435.0L689.8,435.0" stroke="#bc8f8f" stroke-dasharray="12.32 5.28"/>
<path d="M635.0,471.7L689.8,471.7" stroke="#ff0000" stroke-dasharray="1.76 5.28 12.32 5.28"/>
<path d="M635.0,508.2L689.8,508.2" stroke="#000000"/>
</g>
</svg></body></html>
